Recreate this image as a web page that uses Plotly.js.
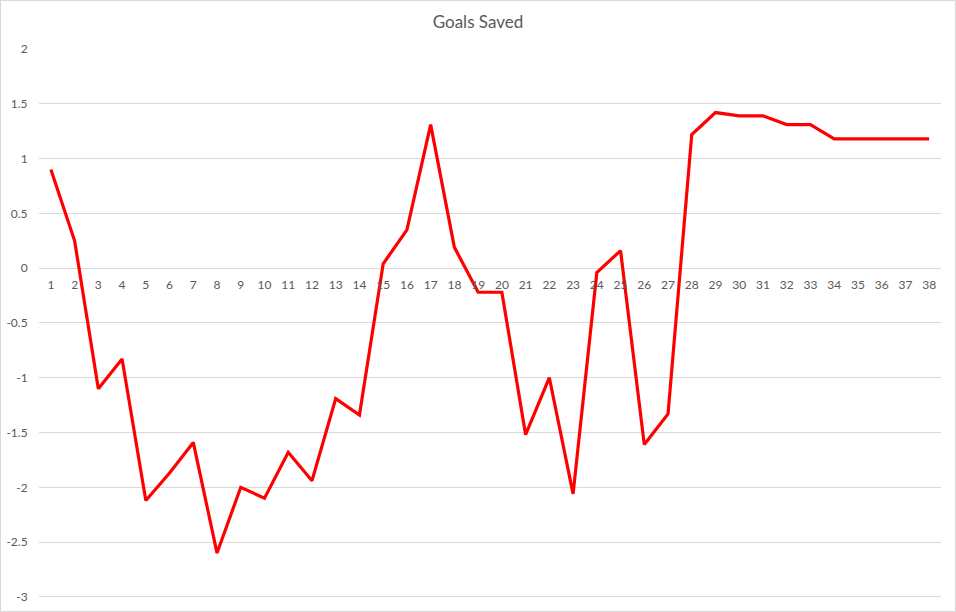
<!DOCTYPE html>
<html>
<head>
<meta charset="utf-8">
<script src="https://cdn.plot.ly/plotly-3.0.1.min.js"></script>
<style>
html,body{margin:0;padding:0;background:#fff;}
#chart{width:954px;height:610px;border:1px solid #d9d9d9;}
</style>
</head>
<body>
<div id="chart"></div>
<script>
const rounds = [1,2,3,4,5,6,7,8,9,10,11,12,13,14,15,16,17,18,19,20,21,22,23,24,25,26,27,28,29,30,31,32,33,34,35,36,37,38];
const goalsSaved = [0.90,0.25,-1.10,-0.83,-2.12,-1.87,-1.59,-2.60,-2.00,-2.10,-1.68,-1.94,-1.19,-1.34,0.04,0.35,1.31,0.19,-0.22,-0.22,-1.52,-1.00,-2.06,-0.04,0.16,-1.61,-1.33,1.22,1.42,1.39,1.39,1.31,1.31,1.18,1.18,1.18,1.18,1.18];
const yTicks = [-3,-2.5,-2,-1.5,-1,-0.5,0,0.5,1,1.5,2];
const chartTitle = "Goals Saved";

const yMin = -3.01, yMax = 2;
const font = "Lato, 'Open Sans', sans-serif";

Plotly.newPlot('chart', [{
  x: rounds,
  y: goalsSaved,
  type: 'scatter',
  mode: 'lines',
  line: {color: '#ff0000', width: 3.2},
  hoverinfo: 'x+y'
}], {
  width: 954, height: 610,
  paper_bgcolor: '#fff', plot_bgcolor: '#fff',
  margin: {l: 38, r: 14, t: 48, b: 13},
  showlegend: false,
  title: {text: chartTitle, x: 0.5, xanchor: 'center', y: 0.965, yanchor: 'middle',
          font: {family: font, size: 17, color: '#595959'}},
  xaxis: {
    range: [0.5, 38.5],
    tickvals: rounds,
    ticktext: rounds.map(String),
    showgrid: false, zeroline: false, showline: false,
    ticks: 'outside', ticklen: 5, tickcolor: 'rgba(0,0,0,0)',
    anchor: 'free',
    position: (0 - yMin) / (yMax - yMin),
    tickfont: {family: font, size: 12, color: '#595959'},
    fixedrange: true
  },
  yaxis: {
    range: [yMin, yMax],
    tickvals: yTicks,
    ticktext: yTicks.map(String),
    showgrid: true, gridcolor: '#d9d9d9', gridwidth: 1,
    zeroline: true, zerolinecolor: '#d9d9d9', zerolinewidth: 1,
    showline: false,
    ticks: 'outside', ticklen: 8, tickcolor: 'rgba(0,0,0,0)',
    tickfont: {family: font, size: 12, color: '#595959'},
    fixedrange: true
  }
}, {displayModeBar: false, staticPlot: true});
</script>
</body>
</html>
